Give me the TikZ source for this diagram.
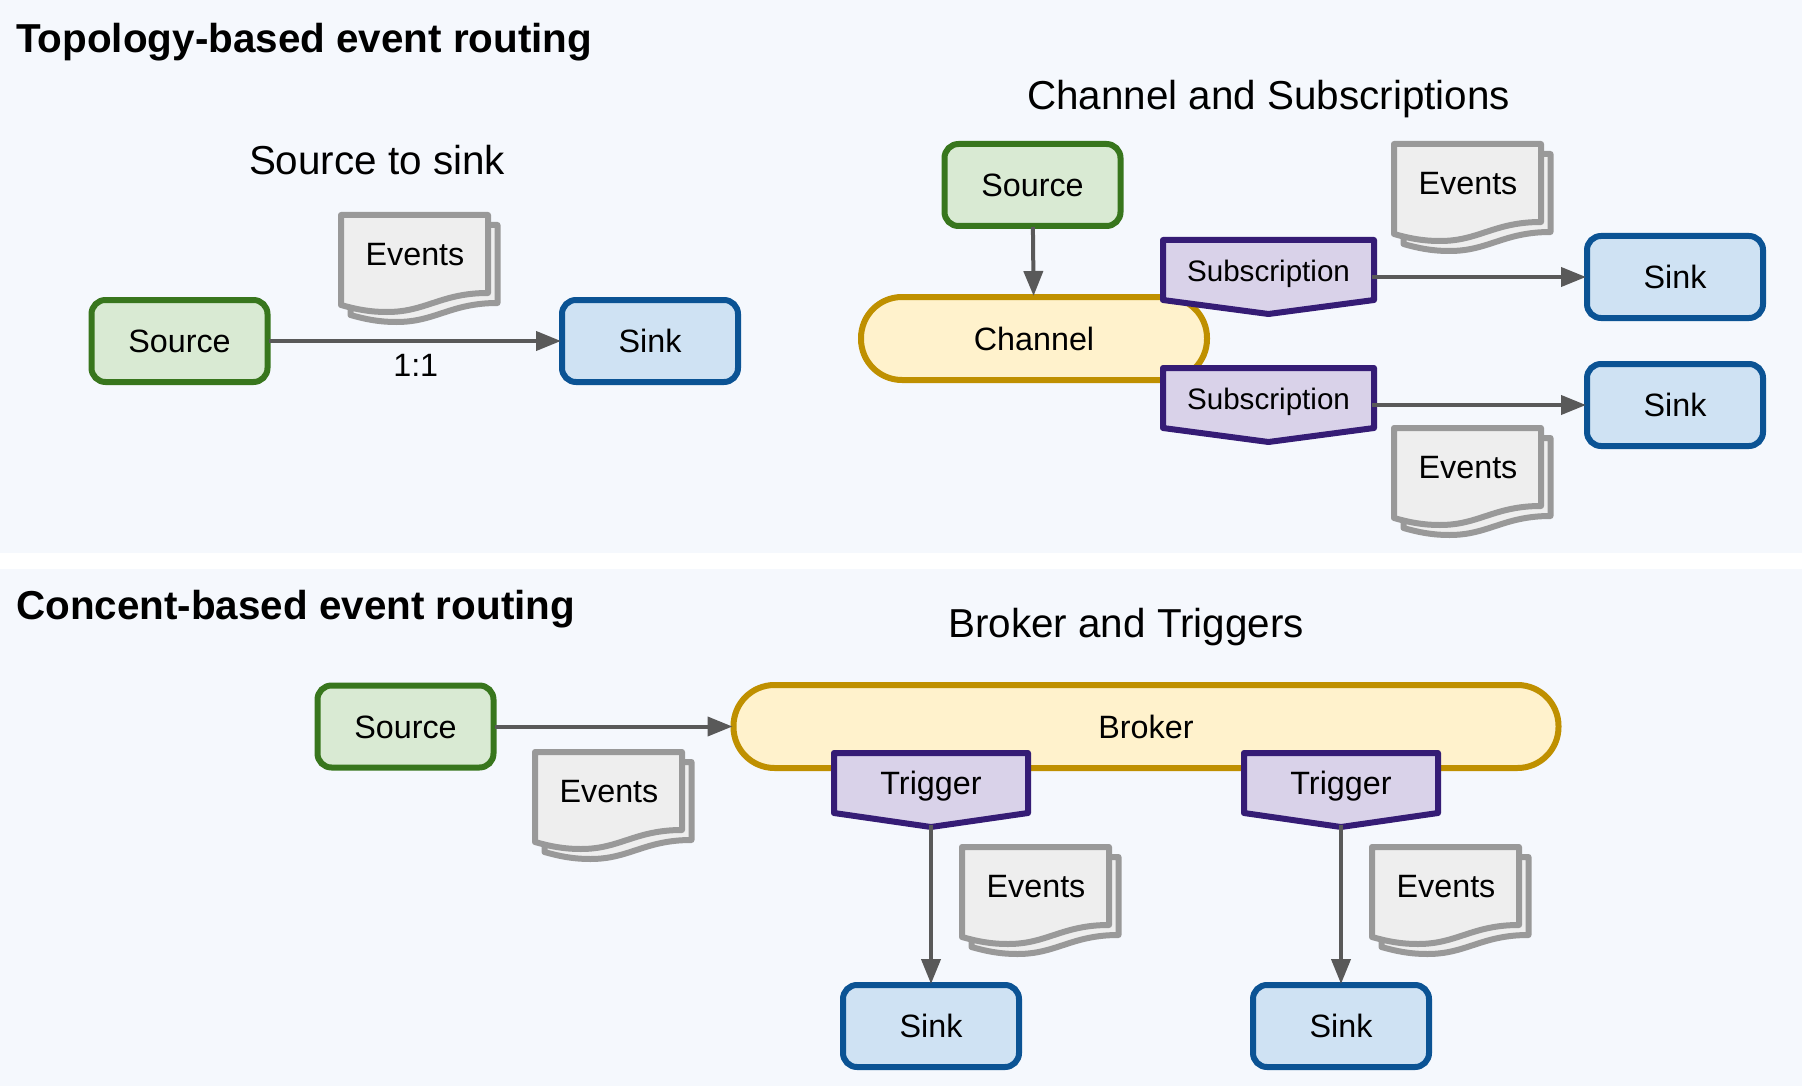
\documentclass[tikz,border=0pt]{standalone}
\usepackage{fontspec}
\setmainfont{Liberation Sans}
\usetikzlibrary{arrows.meta}
\definecolor{PanelBlue}{HTML}{F5F8FD}
\definecolor{SourceFill}{HTML}{D9EAD3}
\definecolor{SourceLine}{HTML}{38761D}
\definecolor{SinkFill}{HTML}{CFE2F3}
\definecolor{SinkLine}{HTML}{0B5394}
\definecolor{PipeFill}{HTML}{FFF2CC}
\definecolor{PipeLine}{HTML}{BF9000}
\definecolor{TagFill}{HTML}{D9D2E9}
\definecolor{TagLine}{HTML}{351C75}
\definecolor{DocFill}{HTML}{EEEEEE}
\definecolor{DocLine}{HTML}{999999}
\definecolor{ArrowGray}{HTML}{595959}
\tikzset{
  boxtext/.style={font=\fontsize{32.3}{38}\selectfont, text height=23pt, text depth=0pt, inner sep=0pt},
  srcbox/.style={boxtext, draw=SourceLine, fill=SourceFill, line width=6pt, rounded corners=14pt, minimum width=176pt, minimum height=82pt},
  sinkbox/.style={boxtext, draw=SinkLine, fill=SinkFill, line width=6pt, rounded corners=14pt, minimum width=176pt, minimum height=82pt},
  pipebox/.style={boxtext, draw=PipeLine, fill=PipeFill, line width=6pt, rounded corners=41pt, minimum height=83pt},
  tagline/.style={draw=TagLine, fill=TagFill, line width=6pt, line join=round},
  docline/.style={draw=DocLine, fill=DocFill, line width=6pt, line join=round},
  flow/.style={-{Triangle[length=25pt, width=19pt]}, draw=ArrowGray, fill=ArrowGray, line width=4pt, shorten >=-2pt, shorten <=-2pt},
  heading/.style={font=\fontsize{40.4}{48}\bfseries\selectfont, anchor=west, inner sep=0pt},
  subheading/.style={font=\fontsize{40.4}{48}\selectfont, inner sep=0pt}
}
% name, centre x, top y, half width, text size, label
\newcommand{\tagbox}[6]{
  \path[tagline] (#2-#4,#3) -- (#2+#4,#3) -- (#2+#4,#3+60) -- (#2,#3+74) -- (#2-#4,#3+60) -- cycle;
  \node[boxtext, font=\fontsize{#5}{38}\selectfont] (#1) at (#2,#3+29.5) {#6};
  \coordinate (#1-right) at (#2+#4,#3+37);
  \coordinate (#1-tip) at (#2,#3+74);
}
% name, left x, top y
\newcommand{\eventsdoc}[3]{
  \foreach \dx/\dy in {9.5/10, 0/0} {
    \path[docline, shift={(#2+\dx,#3+\dy)}] (0,0) -- (147,0) -- (147,78)
      .. controls (100,78) and (85,97) .. (46,97) .. controls (28,97) and (14,94) .. (0,90) -- cycle;
  }
  \node[boxtext] (#1) at (#2+74,#3+39) {Events};
}
\begin{document}
\begin{tikzpicture}[x=1pt, y=-1pt]
  \useasboundingbox (0,0) rectangle (1802,1086);
  \fill[white] (0,0) rectangle (1802,1086);
  \fill[PanelBlue] (0,0) rectangle (1802,553);
  \fill[PanelBlue] (0,569) rectangle (1802,1086);

  \node[heading] (topo) at (16,42.5) {Topology-based event routing};
  \node[heading] (content) at (16,609.5) {Concent-based event routing};
  \node[subheading] (direct) at (377,160) {Source to sink};
  \node[subheading] (chansub) at (1268.5,99.5) {Channel and Subscriptions};
  \node[subheading] (brotrig) at (1126,627.5) {Broker and Triggers};

  % source to sink
  \eventsdoc{evA}{341}{215}
  \node[srcbox] (srcA) at (179.5,341) {Source};
  \node[sinkbox] (sinkA) at (650,341) {Sink};
  \draw[flow] (srcA) -- node[boxtext, below=10pt, xshift=1pt] (ratio) {1:1} (sinkA);

  % channel and subscriptions
  \eventsdoc{evB}{1394}{144}
  \eventsdoc{evC}{1394}{428}
  \node[srcbox] (srcB) at (1032.5,185) {Source};
  \node[pipebox, minimum width=346pt] (chan) at (1034,338.5) {Channel};
  \node[sinkbox] (sinkB) at (1675,277) {Sink};
  \node[sinkbox] (sinkC) at (1675,405) {Sink};
  \tagbox{subA}{1268.5}{240}{105.5}{29.6}{Subscription}
  \tagbox{subB}{1268.5}{368}{105.5}{29.6}{Subscription}
  \draw[flow] (srcB) -- (chan);
  \draw[flow] (subA-right) -- (sinkB);
  \draw[flow] (subB-right) -- (sinkC);

  % broker and triggers
  \eventsdoc{evD}{535}{752}
  \eventsdoc{evE}{962}{847}
  \eventsdoc{evF}{1372}{847}
  \node[srcbox] (srcC) at (405.5,726.5) {Source};
  \node[pipebox, minimum width=825pt] (broker) at (1146,726.5) {Broker};
  \node[sinkbox] (sinkD) at (931,1026) {Sink};
  \node[sinkbox] (sinkE) at (1341,1026) {Sink};
  \tagbox{trigA}{931}{753}{97}{32.3}{Trigger}
  \tagbox{trigB}{1341}{753}{97}{32.3}{Trigger}
  \draw[flow] (srcC) -- (broker);
  \draw[flow] (trigA-tip) -- (sinkD);
  \draw[flow] (trigB-tip) -- (sinkE);
\end{tikzpicture}
\end{document}
